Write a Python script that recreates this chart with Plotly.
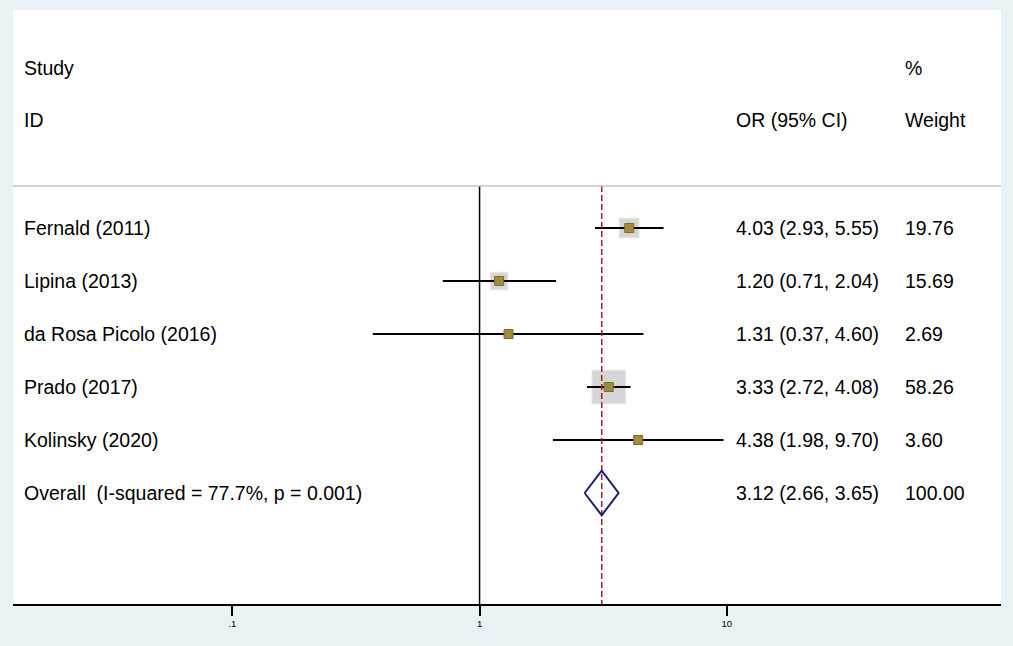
import math
import plotly.graph_objects as go

studies = ["Fernald (2011)", "Lipina (2013)", "da Rosa Picolo (2016)", "Prado (2017)", "Kolinsky (2020)"]
or_vals = [4.03, 1.20, 1.31, 3.33, 4.38]
ci_low = [2.93, 0.71, 0.37, 2.72, 1.98]
ci_high = [5.55, 2.04, 4.60, 4.08, 9.70]
weights = [19.76, 15.69, 2.69, 58.26, 3.60]

overall_label = "Overall  (I-squared = 77.7%, p = 0.001)"
overall_or = 3.12
overall_low = 2.66
overall_high = 3.65
overall_weight = 100.00

tick_vals = [0.1, 1, 10]
tick_text = [".1", "1", "10"]

rows = list(range(1, len(studies) + 1))
overall_row = len(studies) + 1

FONT = "Liberation Sans, Arial, Helvetica, sans-serif"
FS = 19.5

fig = go.Figure()

# weight boxes (area proportional to weight)
fig.add_trace(go.Scatter(
    x=or_vals, y=rows, mode="markers",
    marker=dict(symbol="square", size=[4.4 * math.sqrt(w) for w in weights],
                color="#c6c6c6", line=dict(color="#dadada", width=1)),
    hoverinfo="skip", showlegend=False))

# CI lines
cx, cy = [], []
for lo, hi, r in zip(ci_low, ci_high, rows):
    cx += [lo, hi, None]
    cy += [r, r, None]
fig.add_trace(go.Scatter(x=cx, y=cy, mode="lines",
                         line=dict(color="black", width=2),
                         hoverinfo="skip", showlegend=False))

# point estimates
fig.add_trace(go.Scatter(
    x=or_vals, y=rows, mode="markers",
    marker=dict(symbol="square", size=9, color="#a08b3e",
                line=dict(color="#7e6c2c", width=1)),
    hoverinfo="skip", showlegend=False))

sep_row = 0.2075
bottom_row = 8.094
top_row = -3.113

# null line
fig.add_trace(go.Scatter(x=[1, 1], y=[sep_row, bottom_row], mode="lines",
                         line=dict(color="black", width=1.5),
                         hoverinfo="skip", showlegend=False))
# overall dashed line
fig.add_trace(go.Scatter(x=[overall_or, overall_or], y=[sep_row, bottom_row], mode="lines",
                         line=dict(color="#a01c34", width=1.5, dash="6px,3px"),
                         hoverinfo="skip", showlegend=False))

# diamond
h = 0.42
fig.add_trace(go.Scatter(
    x=[overall_low, overall_or, overall_high, overall_or, overall_low],
    y=[overall_row, overall_row - h, overall_row, overall_row + h, overall_row],
    mode="lines", line=dict(color="#1b1f6e", width=2),
    hoverinfo="skip", showlegend=False))

# separator
fig.add_shape(type="line", xref="paper", x0=0, x1=1, yref="y", y0=sep_row, y1=sep_row,
              line=dict(color="#c4c4c4", width=1.5))

ann = []
def txt(x, y, s):
    ann.append(dict(xref="paper", yref="y", x=x, y=y, text=s, showarrow=False,
                    xanchor="left", yanchor="middle",
                    font=dict(family=FONT, size=FS, color="black")))

X_NAME = 9 / 988
X_OR = 721 / 988
X_W = 890 / 988
txt(X_NAME, -2.019, "Study")
txt(X_NAME, -1.038, "ID")
txt(X_W, -2.019, "%")
txt(X_OR, -1.038, "OR (95% CI)")
txt(X_W, -1.038, "Weight")
for s, o, lo, hi, w, r in zip(studies, or_vals, ci_low, ci_high, weights, rows):
    txt(X_NAME, r, s)
    txt(X_OR, r, f"{o:.2f} ({lo:.2f}, {hi:.2f})")
    txt(X_W, r, f"{w:.2f}")
txt(X_NAME, overall_row, overall_label)
txt(X_OR, overall_row, f"{overall_or:.2f} ({overall_low:.2f}, {overall_high:.2f})")
txt(X_W, overall_row, f"{overall_weight:.2f}")

fig.update_layout(
    width=1013, height=646,
    margin=dict(l=13, r=12, t=10, b=42),
    paper_bgcolor="#e9f1f4", plot_bgcolor="white",
    annotations=ann, showlegend=False,
    xaxis=dict(type="log", range=[-1.887, 2.109], tickvals=tick_vals, ticktext=tick_text,
               ticks="outside", ticklen=10, tickwidth=1.5, tickcolor="black",
               showline=True, linecolor="black", linewidth=2, mirror=False,
               showgrid=False, zeroline=False,
               tickfont=dict(family=FONT, size=9.5, color="black")),
    yaxis=dict(range=[bottom_row, top_row], visible=False, showgrid=False, zeroline=False),
)

fig.write_html("out.html", config={"displayModeBar": False},
               post_script="document.body.style.margin='0';document.body.style.overflow='hidden';")
